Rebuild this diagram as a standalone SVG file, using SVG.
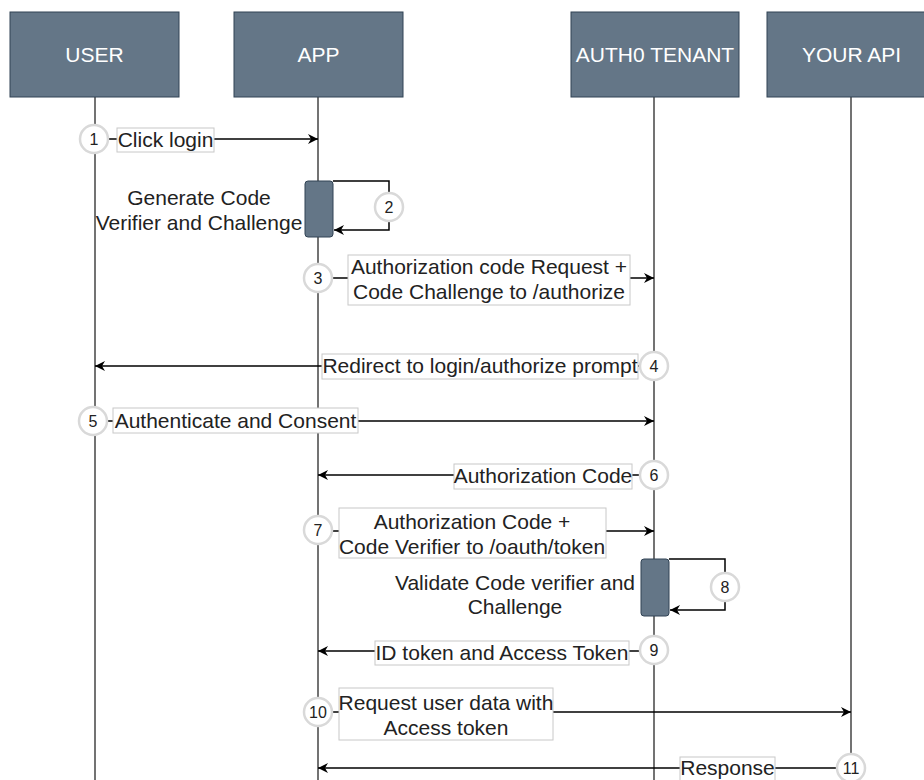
<svg xmlns="http://www.w3.org/2000/svg" width="924" height="780" viewBox="0 0 924 780">
<defs>
<marker id="ah" markerUnits="userSpaceOnUse" markerWidth="12" markerHeight="10" refX="10" refY="5" orient="auto">
<path d="M0,0 L10,5 L0,10 L3,5 Z" fill="#000"/>
</marker>
<style>
.hdr{fill:#647687;stroke:#314354;stroke-width:1}
.hdrt{fill:#fff;font-family:"Liberation Sans",Arial,sans-serif;font-size:21px;text-anchor:middle}
.life{stroke:#444;stroke-width:1.5;fill:none}
.act{fill:#647687;stroke:#314354;stroke-width:1}
.msg{stroke:#000;stroke-width:1.5;fill:none;marker-end:url(#ah)}
.lbl{fill:#fff;stroke:#c8c8c8;stroke-width:1}
.t{fill:#222;font-family:"Liberation Sans",Arial,sans-serif;font-size:21px;text-anchor:middle}
.num{fill:#fff;stroke:#d9d9d9;stroke-width:2.5}
.nt{fill:#222;font-family:"Liberation Sans",Arial,sans-serif;font-size:16px;text-anchor:middle}
</style>
</defs>
<rect width="924" height="780" fill="#fff"/>

<g id="lifelines">
<line class="life" x1="95" y1="97" x2="95" y2="780"/>
<line class="life" x1="318" y1="97" x2="318" y2="780"/>
<line class="life" x1="654" y1="97" x2="654" y2="780"/>
<line class="life" x1="851" y1="97" x2="851" y2="780"/>
</g>

<g id="user"><rect class="hdr" x="10" y="12" width="169" height="85"/><text class="hdrt" x="94.5" y="62">USER</text></g>
<g id="app"><rect class="hdr" x="234" y="12" width="169" height="85"/><text class="hdrt" x="318.5" y="62">APP</text></g>
<g id="auth0"><rect class="hdr" x="571" y="12" width="168" height="85"/><text class="hdrt" x="655" y="62">AUTH0 TENANT</text></g>
<g id="api"><rect class="hdr" x="767" y="12" width="169" height="85"/><text class="hdrt" x="851.5" y="62">YOUR API</text></g>

<g id="act-app"><rect class="act" x="305" y="181" width="28" height="56" rx="3"/></g>
<g id="act-auth0"><rect class="act" x="641" y="559" width="28" height="57" rx="3"/></g>

<g id="connectors">
<line class="msg" x1="108" y1="139" x2="318" y2="139"/>
<path class="msg" d="M333,181 H389 V230 H334"/>
<line class="msg" x1="332" y1="278" x2="654" y2="278"/>
<line class="msg" x1="640" y1="366" x2="95" y2="366"/>
<line class="msg" x1="107" y1="421" x2="654" y2="421"/>
<line class="msg" x1="640" y1="475" x2="318" y2="475"/>
<line class="msg" x1="332" y1="531" x2="654" y2="531"/>
<path class="msg" d="M669,559 H725 V610 H670"/>
<line class="msg" x1="640" y1="651" x2="318" y2="651"/>
<line class="msg" x1="332" y1="712" x2="851" y2="712"/>
<line class="msg" x1="837" y1="768" x2="318" y2="768"/>

<rect class="lbl" x="117" y="128" width="97" height="24"/>
<text class="t" x="165.5" y="147">Click login</text>

<text class="t" x="199" y="205">Generate Code</text>
<text class="t" x="199" y="230">Verifier and Challenge</text>

<rect class="lbl" x="348" y="255" width="282" height="50"/>
<text class="t" x="489" y="274">Authorization code Request +</text>
<text class="t" x="489" y="299">Code Challenge to /authorize</text>

<rect class="lbl" x="322" y="354" width="316" height="25"/>
<text class="t" x="480" y="373">Redirect to login/authorize prompt</text>

<rect class="lbl" x="113" y="408" width="245" height="25"/>
<text class="t" x="235.5" y="428">Authenticate and Consent</text>

<rect class="lbl" x="454" y="464" width="178" height="25"/>
<text class="t" x="543" y="483">Authorization Code</text>

<rect class="lbl" x="339" y="508" width="267" height="50"/>
<text class="t" x="472" y="529">Authorization Code +</text>
<text class="t" x="472" y="554">Code Verifier to /oauth/token</text>

<text class="t" x="515" y="590">Validate Code verifier and</text>
<text class="t" x="515" y="614">Challenge</text>

<rect class="lbl" x="375" y="641" width="254" height="24"/>
<text class="t" x="502" y="660">ID token and Access Token</text>

<rect class="lbl" x="339" y="688" width="214" height="52"/>
<text class="t" x="446" y="710">Request user data with</text>
<text class="t" x="446" y="735">Access token</text>

<rect class="lbl" x="680" y="757" width="95" height="24"/>
<text class="t" x="727.5" y="775">Response</text>
</g>

<g id="step1"><circle class="num" cx="94" cy="139" r="14"/><text class="nt" x="94" y="145">1</text></g>
<g id="step2"><circle class="num" cx="389" cy="207" r="14"/><text class="nt" x="389" y="213">2</text></g>
<g id="step3"><circle class="num" cx="318" cy="278" r="14"/><text class="nt" x="318" y="284">3</text></g>
<g id="step4"><circle class="num" cx="654" cy="366" r="14"/><text class="nt" x="654" y="372">4</text></g>
<g id="step5"><circle class="num" cx="93" cy="421" r="14"/><text class="nt" x="93" y="427">5</text></g>
<g id="step6"><circle class="num" cx="654" cy="475" r="14"/><text class="nt" x="654" y="481">6</text></g>
<g id="step7"><circle class="num" cx="318" cy="530" r="14"/><text class="nt" x="318" y="536">7</text></g>
<g id="step8"><circle class="num" cx="725" cy="587" r="14"/><text class="nt" x="725" y="593">8</text></g>
<g id="step9"><circle class="num" cx="654" cy="650" r="14"/><text class="nt" x="654" y="656">9</text></g>
<g id="step10"><circle class="num" cx="318" cy="712" r="14"/><text class="nt" x="318" y="718">10</text></g>
<g id="step11"><circle class="num" cx="851" cy="768" r="14"/><text class="nt" x="851" y="774">11</text></g>
</svg>
